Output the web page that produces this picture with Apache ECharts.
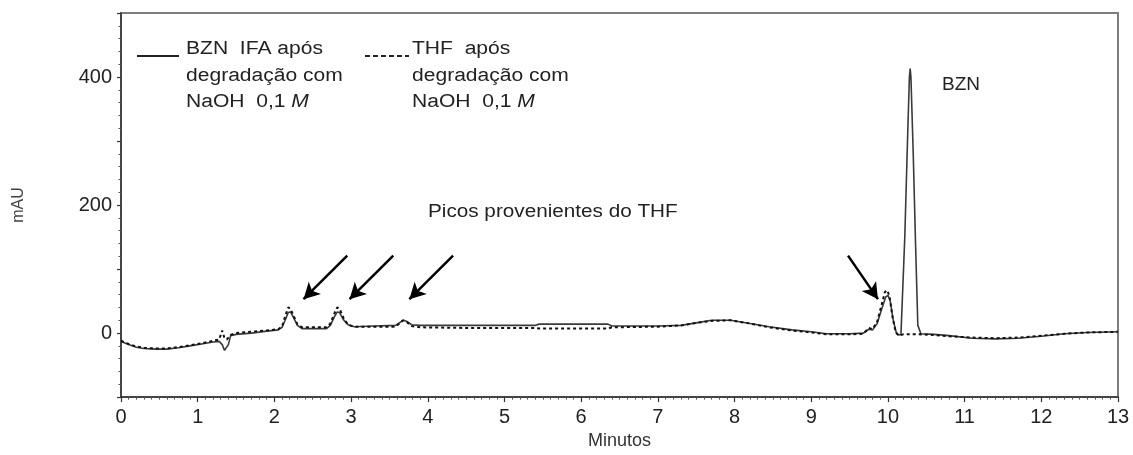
<!DOCTYPE html>
<html>
<head>
<meta charset="utf-8">
<script src="https://cdn.jsdelivr.net/npm/echarts@6/dist/echarts.min.js"></script>
<style>
  html, body { margin: 0; padding: 0; background: #fff; }
  #chart { width: 1133px; height: 455px; }
</style>
</head>
<body>
<div id="chart"></div>
<script>
// Chromatogram: BZN IFA and THF, both after degradation with NaOH 0.1 M
// [time (min), absorbance (mAU)]
const bznIfaTrace = [
  [0.00,-13],[0.10,-18],[0.20,-22],[0.30,-24],[0.45,-25],[0.60,-25],[0.75,-23],[0.90,-20],
  [1.05,-17],[1.20,-14],[1.28,-13],[1.32,-18],[1.35,-27],[1.37,-29],[1.40,-18],[1.43,-4],
  [1.50,-2],[1.70,0],[1.90,3],[2.05,5],[2.10,9],[2.14,20],[2.18,32],[2.21,33],[2.25,24],
  [2.30,12],[2.36,7],[2.50,7],[2.68,7],[2.73,12],[2.78,25],[2.82,33],[2.85,32],[2.90,21],
  [2.96,13],[3.04,10],[3.30,11],[3.58,12],[3.63,16],[3.68,20],[3.73,18],[3.79,13],[3.90,12],
  [4.50,12],[5.00,12],[5.40,12],[5.45,14],[6.35,14],[6.40,11],[7.00,11],[7.30,12],[7.50,16],
  [7.70,20],[7.95,20],[8.20,15],[8.45,10],[8.75,5],[9.00,2],[9.20,-1],[9.50,-1],[9.68,0],
  [9.75,6],[9.80,5],[9.86,15],[9.92,38],[9.97,56],[10.00,59],[10.03,50],[10.07,20],[10.11,0],
  [10.14,-3],[10.17,-2],[10.22,150],[10.26,320],[10.28,400],[10.29,413],[10.30,400],
  [10.33,280],[10.36,140],[10.39,12],[10.43,-1],[10.60,-2],[10.80,-4],[11.10,-8],[11.40,-9],
  [11.70,-8],[12.00,-5],[12.30,-1],[12.60,1],[13.00,2]
];

const thfTrace = [
  [0.00,-12],[0.10,-17],[0.20,-21],[0.30,-23],[0.45,-24],[0.60,-24],[0.75,-22],[0.90,-19],
  [1.05,-16],[1.20,-12],[1.28,-10],[1.32,4],[1.35,-8],[1.38,-10],[1.43,-3],[1.50,0],
  [1.70,2],[1.90,4],[2.05,6],[2.10,10],[2.14,26],[2.18,40],[2.21,38],[2.25,27],[2.30,14],
  [2.36,9],[2.50,9],[2.68,9],[2.73,15],[2.78,30],[2.82,40],[2.85,38],[2.90,24],[2.96,13],
  [3.04,10],[3.30,10],[3.58,10],[3.63,15],[3.68,20],[3.73,17],[3.79,11],[3.90,9],[4.50,8],
  [5.00,8],[5.40,8],[5.45,7],[6.35,7],[6.40,9],[7.00,10],[7.30,12],[7.50,16],[7.70,19],
  [7.95,20],[8.20,15],[8.45,9],[8.75,4],[9.00,1],[9.20,-2],[9.50,-2],[9.68,-1],[9.75,8],
  [9.80,6],[9.86,18],[9.92,45],[9.96,64],[9.99,67],[10.02,58],[10.06,25],[10.10,2],
  [10.14,-4],[10.20,-2],[10.40,-2],[10.60,-3],[10.80,-5],[11.10,-7],[11.40,-8],[11.70,-7],
  [12.00,-4],[12.30,-1],[12.60,1],[13.00,2]
];

// Labelled y values (mAU)
const yTickLabels = [0, 200, 400];

// Arrows pointing at the THF peaks: [from, to] in (min, mAU)
const thfArrows = [
  [[2.95,121],[2.38,53]],
  [[3.55,121],[2.98,53]],
  [[4.33,121],[3.76,53]],
  [[9.48,121],[9.87,53]]
];

const legendSolid = 'BZN  IFA após\ndegradação com\nNaOH  0,1 {i|M}';
const legendDashed = 'THF  após\ndegradação com\nNaOH  0,1 {i|M}';
const peakNote = 'Picos provenientes do THF';
const mainPeakLabel = 'BZN';

const FONT = 'Liberation Sans, Arial, sans-serif';
const INK = '#222';

const chart = echarts.init(document.getElementById('chart'), null, { renderer: 'canvas' });

const legendText = (txt, x) => ({
  type: 'text',
  x: x, y: 36,
  scaleX: 1.17,
  style: {
    text: txt,
    fill: INK,
    fontSize: 18,
    fontFamily: FONT,
    lineHeight: 26.5,
    verticalAlign: 'top',
    align: 'left',
    rich: {
      i: { fontStyle: 'italic', fontSize: 18, fontFamily: FONT, lineHeight: 26.5, fill: INK }
    }
  },
  silent: true
});

chart.setOption({
  animation: false,
  backgroundColor: '#fff',
  grid: {
    left: 121, right: 15, top: 13, bottom: 54,
    show: true,
    borderColor: '#7d7d7d',
    borderWidth: 2,
    backgroundColor: 'transparent'
  },
  xAxis: {
    type: 'value',
    min: 0, max: 13, interval: 1,
    name: 'Minutos',
    nameLocation: 'middle',
    nameGap: 31,
    nameTextStyle: { fontSize: 18, color: '#333', fontFamily: FONT },
    axisLine: { show: true, onZero: false, lineStyle: { color: '#333', width: 1.5 } },
    axisTick: { show: true, length: 5, lineStyle: { color: '#333', width: 1.2 } },
    minorTick: { show: true, splitNumber: 10, length: 2.5, lineStyle: { color: '#555', width: 1 } },
    axisLabel: { fontSize: 20, color: INK, fontFamily: FONT, margin: 10 },
    splitLine: { show: false }
  },
  yAxis: {
    type: 'value',
    min: -100, max: 500, interval: 100,
    name: 'mAU',
    nameLocation: 'middle',
    nameGap: 94,
    nameRotate: 90,
    nameTextStyle: { fontSize: 16, color: '#444', fontFamily: FONT },
    axisLine: { show: true, onZero: false, lineStyle: { color: '#333', width: 1.5 } },
    axisTick: { show: true, length: 4, lineStyle: { color: '#333', width: 1.2 } },
    minorTick: { show: true, splitNumber: 5, length: 2.5, lineStyle: { color: '#555', width: 1 } },
    axisLabel: {
      fontSize: 20, color: INK, fontFamily: FONT, margin: 9,
      formatter: v => (yTickLabels.includes(v) ? String(v) : '')
    },
    splitLine: { show: false }
  },
  series: [
    {
      name: 'BZN IFA após degradação com NaOH 0,1 M',
      type: 'line',
      data: bznIfaTrace,
      showSymbol: false,
      symbol: 'none',
      lineStyle: { color: '#3a3a3a', width: 1.6 },
      z: 2,
      silent: true
    },
    {
      name: 'THF após degradação com NaOH 0,1 M',
      type: 'line',
      data: thfTrace,
      showSymbol: false,
      symbol: 'none',
      lineStyle: { color: '#111', width: 2, type: [3, 3] },
      z: 3,
      silent: true,
      markLine: {
        silent: true,
        symbol: ['none', 'arrow'],
        symbolSize: [13, 16],
        label: { show: false },
        lineStyle: { color: '#000', width: 2.5, type: 'solid' },
        data: thfArrows.map(([from, to]) => [{ coord: from }, { coord: to }])
      }
    }
  ],
  graphic: [
    { type: 'line', shape: { x1: 137, y1: 56, x2: 179, y2: 56 },
      style: { stroke: INK, lineWidth: 2 }, silent: true },
    legendText(legendSolid, 186),
    { type: 'line', shape: { x1: 365, y1: 56, x2: 409, y2: 56 },
      style: { stroke: INK, lineWidth: 2, lineDash: [5, 3] }, silent: true },
    legendText(legendDashed, 412),
    { type: 'text', x: 942, y: 85,
      style: { text: mainPeakLabel, fill: INK, fontSize: 19, fontFamily: FONT,
               align: 'left', verticalAlign: 'middle' }, silent: true },
    { type: 'text', x: 428, y: 212.5, scaleX: 1.15,
      style: { text: peakNote, fill: INK, fontSize: 18, fontFamily: FONT,
               align: 'left', verticalAlign: 'middle' }, silent: true }
  ]
});
</script>
</body>
</html>
